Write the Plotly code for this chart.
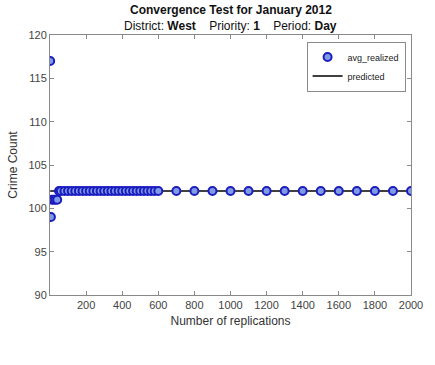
import plotly.graph_objects as go

# Replication counts and average realized crime counts
replications = [1, 5, 10, 20, 30, 40, 50] + list(range(60, 601, 20)) + list(range(700, 2001, 100))
avg_realized = [117, 99, 101, 101, 101, 101] + [102] * (len(replications) - 6)

# Predicted crime count
predicted_x = [1, 2000]
predicted_y = [102, 102]

x_ticks = [200, 400, 600, 800, 1000, 1200, 1400, 1600, 1800, 2000]
y_ticks = [90, 95, 100, 105, 110, 115, 120]

FONT = "Liberation Sans, Arial, sans-serif"

fig = go.Figure()

fig.add_trace(go.Scatter(
    x=predicted_x, y=predicted_y, mode="lines", name="predicted",
    line=dict(color="black", width=1.5), legendrank=2,
))
fig.add_trace(go.Scatter(
    x=replications, y=avg_realized, mode="markers", name="avg_realized",
    marker=dict(symbol="circle", size=8, color="#7f9be6",
                line=dict(color="#1c1cc0", width=2)),
    legendrank=1,
))

axis_common = dict(
    showline=True, linecolor="#8a8a8a", linewidth=1, mirror="ticks",
    ticks="inside", ticklen=4, tickcolor="#8a8a8a", showgrid=False, zeroline=False,
    tickfont=dict(family=FONT, size=11, color="#444444"),
    ticklabeloverflow="allow",
)

fig.update_layout(
    width=435, height=365,
    margin=dict(l=49, r=12, t=35, b=70),
    paper_bgcolor="white", plot_bgcolor="white",
    font=dict(family=FONT, color="#222222"),
    xaxis=dict(range=[0, 2000], tickvals=x_ticks,
               title=dict(text="Number of replications", standoff=6,
                          font=dict(size=12, color="#333333")),
               **axis_common),
    yaxis=dict(range=[90, 120], tickvals=y_ticks,
               title=dict(text="Crime Count", standoff=8,
                          font=dict(size=12, color="#333333")),
               **axis_common),
    legend=dict(
        x=0.985, xanchor="right", y=0.975, yanchor="top",
        bgcolor="white", bordercolor="#8a8a8a", borderwidth=1,
        font=dict(size=9, color="#222222"),
        tracegroupgap=0, itemwidth=30,
    ),
    showlegend=True,
    annotations=[
        dict(text="<b>Convergence Test for January 2012</b>",
             xref="paper", yref="paper", x=0.5, y=1.0, yshift=16,
             xanchor="center", yanchor="bottom", showarrow=False,
             font=dict(size=12, color="#111111")),
        dict(text="District: <b>West</b>    Priority: <b>1</b>    Period: <b>Day</b>",
             xref="paper", yref="paper", x=0.5, y=1.0, yshift=0,
             xanchor="center", yanchor="bottom", showarrow=False,
             font=dict(size=12, color="#111111")),
    ],
)

fig.write_html("out.html")
